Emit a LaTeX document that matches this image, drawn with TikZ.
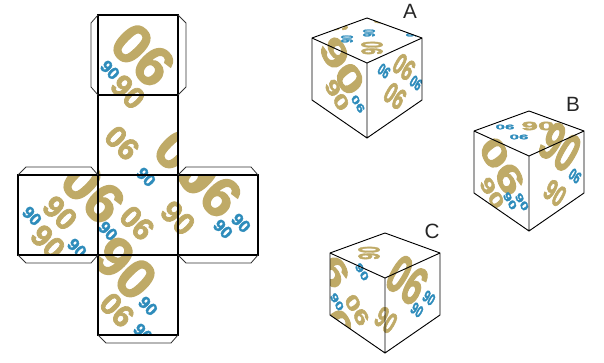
\documentclass[tikz,border=0pt]{standalone}
\usepackage{fontspec}
\setmainfont{Liberation Sans}
\newfontfamily\digfont[FakeBold=2.5]{Liberation Sans Bold}
\definecolor{dtan}{HTML}{BFAA67}
\definecolor{dblue}{HTML}{2E8CBB}
\tikzset{
  digit/.style={inner sep=0pt,font=\digfont\fontsize{#1}{#1}\selectfont},
  bigtan/.style={digit=42,text=dtan},
  midtan/.style={digit=23,text=dtan},
  smlblue/.style={digit=13,text=dblue},
  onnet/.style={at={(#1)},rotate=-45,transform shape},
  ontop/.style={cm={.6875,-.275,.6875,.275,(#1)},transform shape,rotate=-45},
  onleft/.style={cm={.6875,-.3125,0,.85,(#1)},transform shape,rotate=-45},
  onright/.style={cm={.6875,.3125,0,.85,(#1)},transform shape,rotate=-45},
  square/.style={line width=1.2pt},
  tab/.style={line width=0.6pt,draw=black!80},
  edge/.style={line width=0.7pt},
  lab/.style={font=\fontsize{15.5}{15.5}\selectfont,text=black!85}
}
% frame of one cube, #1 = apex
\newcommand{\cubeframe}[1]{
  \draw[edge,shift={(#1)}] (0,0)--(55,20)--(55,82)--(0,120)--(-55,82)--(-55,20)--cycle
    (-55,20)--(0,45)--(55,20) (0,45)--(0,120);
}
\newcommand{\cubeclip}[1]{
  \clip[shift={(#1)}] (0,0)--(55,20)--(55,82)--(0,120)--(-55,82)--(-55,20)--cycle;
}
\begin{document}
\begin{tikzpicture}[x=0.75pt,y=-0.75pt]
	\useasboundingbox (0,0) rectangle (604,363);
	% the net
	\begin{scope}
	\clip (98,15)--(178,15)--(178,175)--(258,175)--(258,255)--(178,255)--(178,335)--(98,335)--(98,255)--(18,255)--(18,175)--(98,175)--cycle;
	\foreach \s/\p/\t in {bigtan/{143,55}/06,bigtan/{93,192}/06,bigtan/{210,186}/06,bigtan/{186,161}/06,bigtan/{125,268}/90,
		midtan/{128,92}/90,midtan/{122,143}/06,midtan/{137,223}/06,midtan/{178,218}/90,midtan/{60,213}/90,midtan/{48,242}/90,midtan/{117,310}/06,
		smlblue/{110,70}/90,smlblue/{146,177}/90,smlblue/{108,231}/90,smlblue/{32,216}/90,smlblue/{77,248}/90,smlblue/{223,229}/90,smlblue/{241,223}/90,smlblue/{148,306}/90,smlblue/{143,333}/90}{
		\node[\s,onnet=\p] {\t};
	}
	\end{scope}
	\foreach \x/\y in {98/15,98/95,98/175,18/175,178/175,98/255}{
		\draw[square] (\x,\y) rectangle ++(80,80);
	}
	\draw[tab] (98,15)--(91,23)--(91,87)--(98,95) (178,15)--(186,23)--(186,87)--(178,95)
		(18,175)--(26,167)--(91,167)--(98,175) (178,175)--(186,167)--(251,167)--(258,175)
		(18,255)--(26,263)--(91,263)--(98,255) (178,255)--(186,263)--(251,263)--(258,255)
		(98,335)--(106,343)--(171,343)--(178,335);
	% cube A
	\begin{scope}
	\cubeclip{367,18}
	\foreach \s/\p/\t in {bigtan/{342,66}/90,midtan/{337,95}/90,smlblue/{358,104}/06}{
		\node[\s,onleft=\p] {\t};
	}
	\foreach \s/\p/\t in {midtan/{404,67}/06,midtan/{395,96}/06,smlblue/{384,71}/06,smlblue/{416,83}/06}{
		\node[\s,onright=\p] {\t};
	}
	\foreach \s/\p/\t in {midtan/{372,48}/06,smlblue/{369,33}/06,smlblue/{347,39}/06,midtan/{337,24}/06,midtan/{384,17}/06,smlblue/{412,33}/06}{
		\node[\s,ontop=\p] {\t};
	}
	\end{scope}
	\cubeframe{367,18}
	\node[lab] (labA) at (410,11) {A};
	% cube B
	\begin{scope}
	\cubeclip{529,111}
	\foreach \s/\p/\t in {bigtan/{502,166}/06,midtan/{492,193}/90,smlblue/{510,201}/90,smlblue/{522,202}/90}{
		\node[\s,onleft=\p] {\t};
	}
	\foreach \s/\p/\t in {bigtan/{560,147}/90,midtan/{555,193}/90,smlblue/{575,176}/06}{
		\node[\s,onright=\p] {\t};
	}
	\foreach \s/\p/\t in {midtan/{538,126}/90,smlblue/{505,127}/06,smlblue/{519,137}/06}{
		\node[\s,ontop=\p,rotate=90] {\t};
	}
	\end{scope}
	\cubeframe{529,111}
	\node[lab] (labB) at (573,104) {B};
	% cube C
	\begin{scope}
	\cubeclip{385,233}
	\foreach \s/\p/\t in {bigtan/{327,259}/06,bigtan/{346,338}/06,midtan/{357,310}/06,smlblue/{337,302}/90,smlblue/{362,272}/90}{
		\node[\s,onleft=\p] {\t};
	}
	\foreach \s/\p/\t in {bigtan/{407,280}/06,midtan/{386,320}/90,smlblue/{417,310}/90,smlblue/{429,298}/90}{
		\node[\s,onright=\p] {\t};
	}
	\foreach \s/\p/\t in {midtan/{369,253}/06,midtan/{408,232}/06}{
		\node[\s,ontop=\p] {\t};
	}
	\end{scope}
	\cubeframe{385,233}
	\node[lab] (labC) at (432,231) {C};
\end{tikzpicture}
\end{document}
